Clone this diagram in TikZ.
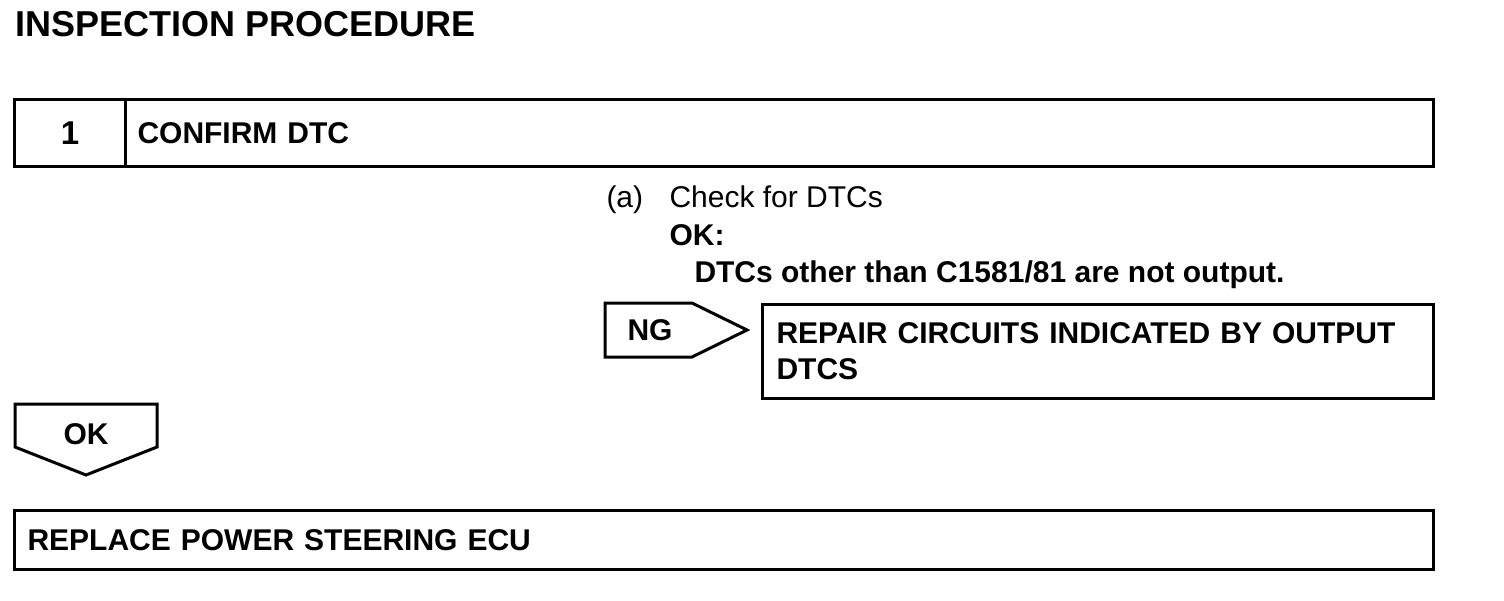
\documentclass[tikz,border=0pt]{standalone}
\usepackage{fontspec}
\setmainfont{Liberation Sans}
\usetikzlibrary{positioning}

\begin{document}
\begin{tikzpicture}[x=1pt,y=-1pt,line width=3pt,
t/.style={font=\fontsize{30}{36}\selectfont,inner sep=0pt},
tb/.style={inner sep=0pt,font=\bfseries\fontsize{30}{36}\selectfont},
box/.style={draw,tb,anchor=north west,align=left,inner ysep=0pt},
tag/.style={draw,line join=miter}]
\useasboundingbox (0,0) rectangle (1504,600);
\node[anchor=base west,inner sep=0pt,font=\bfseries\fontsize{36}{40}\selectfont](title) at (14,36){INSPECTION PROCEDURE};
\node[box,minimum width=111,minimum height=67,align=center](num) at (13,98){\fontsize{33}{36}\selectfont 1};
\node[box,minimum height=67,text width=1284,inner xsep=12](confirm) at (124,98){CONFIRM DTC};
\node[t,anchor=base west](a) at (605,207){(a)};
\node[t,anchor=base west](check) at (668,207){Check for DTCs};
\node[tb,anchor=base west](okhd) at (668,245){OK:};
\node[tb,anchor=base west](okspec) at (693,282){DTCs other than C1581/81 are not output.};
\draw[tag](605,303)--(692,303)--(747,330)--(692,357)--(605,357)--cycle;
\node[tb](ng) at (650,330){NG};
\node[box,minimum height=94,text width=643,inner xsep=14](repair) at (761,303){REPAIR CIRCUITS INDICATED BY OUTPUT\\DTCS};
\draw[tag](15,404)--(157,404)--(157,447)--(86,475)--(15,447)--cycle;
\node[tb](ok) at (86,434){OK};
\node[box,minimum height=59,text width=1393,inner xsep=13](replace) at (13,509){REPLACE POWER STEERING ECU};
\end{tikzpicture}
\end{document}
